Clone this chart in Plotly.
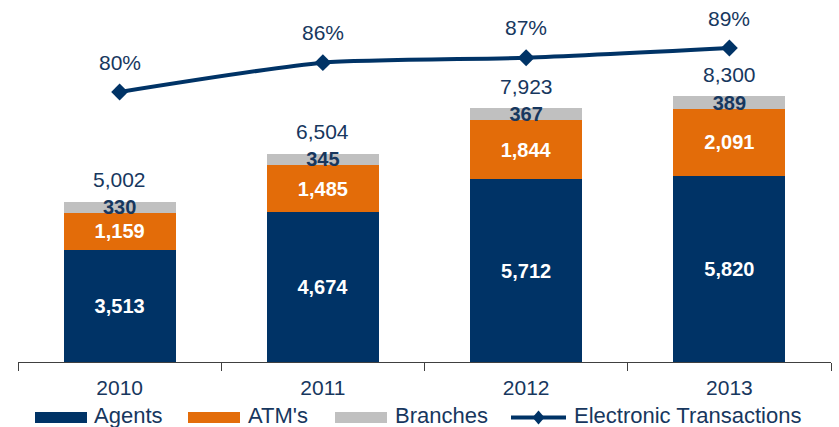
import plotly.graph_objects as go

years = ["2010", "2011", "2012", "2013"]
agents = [3513, 4674, 5712, 5820]
atms = [1159, 1485, 1844, 2091]
branches = [330, 345, 367, 389]
totals = [5002, 6504, 7923, 8300]
electronic_pct = [80, 86, 87, 89]

NAVY = "#003366"
ORANGE = "#E36C09"
GRAY = "#C0C0C0"
TEXT = "#17375E"
FONT = "Arial, Liberation Sans, sans-serif"

W, H = 839, 427
L, R, T, B = 18, 8, 10, 65
PW, PH = W - L - R, H - T - B


def px_x(px):
    return (px - L) / PW


def px_y(py):
    return (H - B - py) / PH


fig = go.Figure()

seg_text_colors = {"Agents": "white", "ATM's": "white", "Branches": TEXT}
for name, vals, color in [("Agents", agents, NAVY), ("ATM's", atms, ORANGE), ("Branches", branches, GRAY)]:
    fig.add_trace(go.Bar(
        x=years, y=vals, name=name, marker=dict(color=color, line=dict(width=0)),
        text=[f"{v:,}" for v in vals], textposition="inside", insidetextanchor="middle",
        textangle=0, constraintext="none",
        textfont=dict(family=FONT, size=20, color=seg_text_colors[name], weight="bold"),
        showlegend=False,
    ))

fig.add_trace(go.Scatter(
    x=years, y=electronic_pct, name="Electronic Transactions", yaxis="y2",
    mode="lines+markers", line=dict(color=NAVY, width=4, shape="spline", smoothing=0.6),
    marker=dict(symbol="diamond", size=13, color=NAVY), showlegend=False,
))

# value labels: category position given by index on the category axis
annotations = []
for i, tot in enumerate(totals):
    annotations.append(dict(x=i, y=tot, xref="x", yref="y", text=f"{tot:,}", showarrow=False,
                            yshift=22, yanchor="middle",
                            font=dict(family=FONT, size=21, color=TEXT)))
for i, p in enumerate(electronic_pct):
    annotations.append(dict(x=i, y=p, xref="x", yref="y2", text=f"{p}%", showarrow=False,
                            yshift=30, yanchor="middle",
                            font=dict(family=FONT, size=21, color=TEXT)))

# custom legend with wide swatches
shapes = []
legend_items = [("Agents", NAVY, 35, 87, 92, "box"), ("ATM's", ORANGE, 188, 240, 246, "box"),
                ("Branches", GRAY, 335, 387, 393, "box"),
                ("Electronic Transactions", NAVY, 511, 566, 572, "line")]
for label, color, x0, x1, tx, kind in legend_items:
    if kind == "box":
        shapes.append(dict(type="rect", xref="paper", yref="paper", x0=px_x(x0), x1=px_x(x1),
                           y0=px_y(423), y1=px_y(412), fillcolor=color, line=dict(width=0)))
    else:
        shapes.append(dict(type="line", xref="paper", yref="paper", x0=px_x(x0), x1=px_x(x1),
                           y0=px_y(417.5), y1=px_y(417.5), line=dict(color=color, width=4)))
        cx, cy = (x0 + x1) / 2, 417.5
        shapes.append(dict(type="path", xref="paper", yref="paper",
                           path=f"M {px_x(cx - 6)} {px_y(cy)} L {px_x(cx)} {px_y(cy - 7)} "
                                f"L {px_x(cx + 6)} {px_y(cy)} L {px_x(cx)} {px_y(cy + 7)} Z",
                           fillcolor=color, line=dict(width=0)))
    annotations.append(dict(x=px_x(tx), y=px_y(415), xref="paper", yref="paper", text=label,
                            showarrow=False, xanchor="left", yanchor="middle",
                            font=dict(family=FONT, size=22, color=TEXT)))

fig.update_layout(
    width=W, height=H, margin=dict(l=L, r=R, t=T, b=B),
    barmode="stack", bargap=0.45,
    plot_bgcolor="white", paper_bgcolor="white",
    xaxis=dict(type="category", range=[-0.5, len(years) - 0.5], showline=True, linecolor="#404040",
               linewidth=1, ticks="outside", tickson="boundaries", ticklen=8, tickcolor="#404040",
               ticklabelstandoff=7,
               tickfont=dict(family=FONT, size=21, color=TEXT),
               showgrid=False, zeroline=False),
    yaxis=dict(range=[0, 11000], visible=False, showgrid=False),
    yaxis2=dict(range=[24.79, 96.77], overlaying="y", visible=False, showgrid=False),
    annotations=annotations, shapes=shapes, showlegend=False,
)

fig.write_html("out.html")
